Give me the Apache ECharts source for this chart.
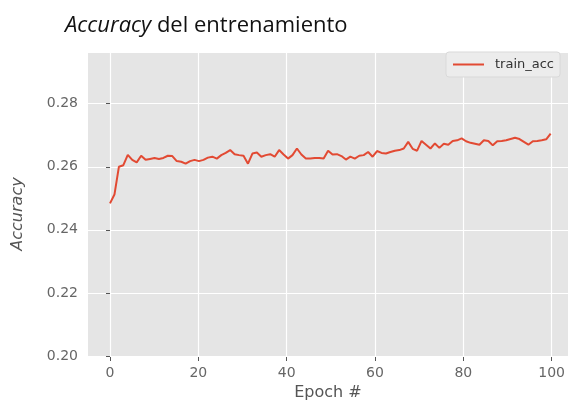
<!DOCTYPE html>
<html>
<head>
<meta charset="utf-8">
<script src="https://cdn.jsdelivr.net/npm/echarts@6/dist/echarts.min.js"></script>
<style>
  html, body { margin: 0; padding: 0; background: #fff; }
  #chart { width: 568px; height: 406px; }
</style>
</head>
<body>
<div id="chart"></div>
<script>
// epochs 0..99
const epochs = Array.from({ length: 100 }, (_, i) => i)

const trainAcc = [
  0.2484, 0.2512, 0.2600, 0.2605, 0.2638, 0.2622, 0.2614, 0.2635, 0.2622, 0.2625,
  0.2628, 0.2625, 0.2628, 0.2635, 0.2634, 0.2618, 0.2616, 0.2610, 0.2618, 0.2622,
  0.2618, 0.2622, 0.2629, 0.2632, 0.2626, 0.2637, 0.2644, 0.2653, 0.2640, 0.2637,
  0.2635, 0.2610, 0.2642, 0.2645, 0.2632, 0.2637, 0.2640, 0.2632, 0.2653, 0.2639,
  0.2626, 0.2637, 0.2658, 0.2639, 0.2626, 0.2626, 0.2628, 0.2628, 0.2626, 0.2651,
  0.2639, 0.2640, 0.2634, 0.2623, 0.2632, 0.2626, 0.2635, 0.2637, 0.2647, 0.2632,
  0.2650, 0.2644, 0.2642, 0.2647, 0.2651, 0.2653, 0.2658, 0.2679, 0.2657, 0.2651,
  0.2682, 0.2670, 0.2658, 0.2674, 0.2660, 0.2673, 0.2670, 0.2682, 0.2684, 0.2690,
  0.2681, 0.2676, 0.2673, 0.2670, 0.2684, 0.2682, 0.2668, 0.2681, 0.2682, 0.2684,
  0.2688, 0.2692, 0.2688, 0.2679, 0.2670, 0.2681, 0.2682, 0.2684, 0.2687, 0.2705,
]

const xTicks = [0, 20, 40, 60, 80, 100]
const yTicks = [0.20, 0.22, 0.24, 0.26, 0.28]

const TICK_COLOR = '#555'
const LABEL_COLOR = '#666'
const FONT = 'DejaVu Sans'

const chart = echarts.init(document.getElementById('chart'))

chart.setOption({
  backgroundColor: '#fff',
  animation: false,
  title: {
    text: '{i|Accuracy} del entrenamiento',
    left: 60,
    top: 10,
    textStyle: {
      fontFamily: 'Open Sans',
      fontSize: 22,
      fontWeight: 'normal',
      color: '#111',
      rich: {
        i: { fontFamily: 'Open Sans', fontSize: 22, fontStyle: 'italic', color: '#111' },
      },
    },
  },
  legend: {
    data: ['train_acc'],
    left: 446,
    top: 52,
    padding: [6, 6, 6, 7],
    icon: 'rect',
    itemWidth: 31,
    itemHeight: 2,
    backgroundColor: '#ececec',
    borderColor: '#d9d9d9',
    borderWidth: 1,
    borderRadius: 3,
    textStyle: { fontFamily: FONT, fontSize: 13, color: '#333', padding: [0, 0, 0, 6] },
  },
  graphic: [
    {
      type: 'rect',
      z: -100,
      silent: true,
      shape: { x: 88, y: 52, width: 480, height: 305 },
      style: { fill: '#e5e5e5' },
    },
  ],
  grid: [
    // full plotting area (data lives here)
    { left: 88, right: 0, top: 52, bottom: 49, containLabel: false },
    // span 0..100 used only for x ticks / vertical gridlines
    { left: 110, right: 13, top: 52, bottom: 49, containLabel: false },
  ],
  xAxis: [
    {
      gridIndex: 0,
      type: 'value',
      min: -4.94,
      max: 102.9,
      axisLine: { show: false },
      axisTick: { show: false },
      axisLabel: { show: false },
      splitLine: { show: false },
      name: 'Epoch #',
      nameLocation: 'middle',
      nameGap: 29,
      nameTextStyle: { fontFamily: FONT, fontSize: 16, color: '#555' },
    },
    {
      gridIndex: 1,
      type: 'value',
      min: xTicks[0],
      max: xTicks[xTicks.length - 1],
      interval: 20,
      axisLine: { show: false },
      axisTick: { show: true, length: 4, lineStyle: { color: TICK_COLOR } },
      axisLabel: { margin: 9, fontFamily: FONT, fontSize: 14, color: LABEL_COLOR },
      splitLine: { show: true, lineStyle: { color: '#fff', width: 1.2 } },
    },
  ],
  yAxis: [
    {
      gridIndex: 0,
      type: 'value',
      min: yTicks[0],
      max: 0.2964,
      interval: 0.02,
      axisLine: { show: false },
      axisTick: { show: true, length: 4, lineStyle: { color: TICK_COLOR } },
      axisLabel: {
        margin: 10,
        fontFamily: FONT,
        fontSize: 14,
        color: LABEL_COLOR,
        showMaxLabel: false,
        formatter: (v) => (yTicks.some((t) => Math.abs(t - v) < 1e-6) ? v.toFixed(2) : ''),
      },
      splitLine: { show: true, lineStyle: { color: '#fff', width: 1.2 } },
      name: 'Accuracy',
      nameLocation: 'middle',
      nameGap: 62,
      nameTextStyle: {
        fontFamily: FONT,
        fontSize: 16,
        fontStyle: 'italic',
        color: '#555',
        padding: [0, 20, 0, 0],
      },
    },
    { gridIndex: 1, type: 'value', min: 0, max: 1, show: false },
  ],
  series: [
    {
      name: 'train_acc',
      type: 'line',
      xAxisIndex: 0,
      yAxisIndex: 0,
      data: epochs.map((e, i) => [e, trainAcc[i]]),
      showSymbol: false,
      symbol: 'none',
      color: '#E24A33',
      lineStyle: { width: 2, color: '#E24A33' },
    },
  ],
})
</script>
</body>
</html>
